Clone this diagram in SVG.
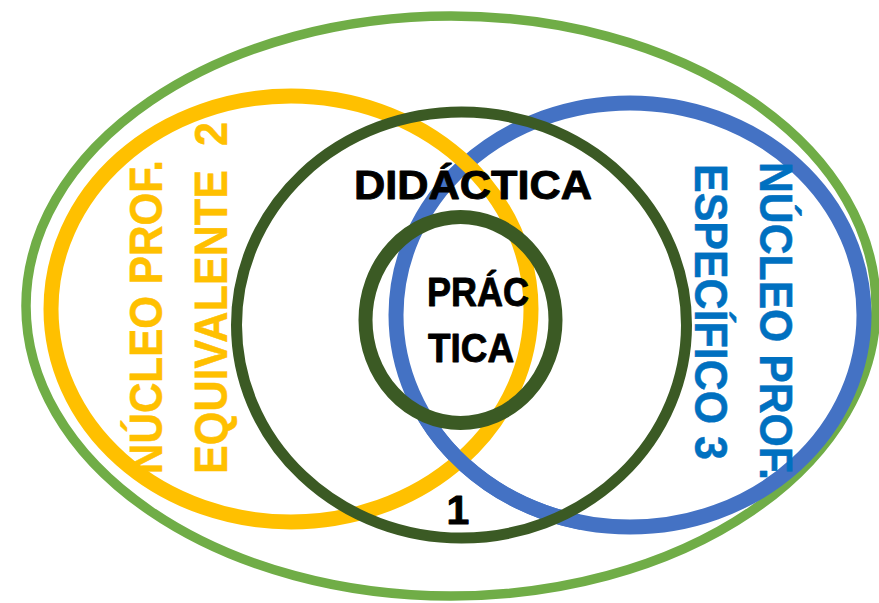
<svg xmlns="http://www.w3.org/2000/svg" width="879" height="603" viewBox="0 0 879 603">
  <style>
    .ring { fill: none; }
    .t { font-family: "Liberation Sans", Arial, sans-serif; font-weight: bold; stroke-width: 0.9px; stroke-linejoin: round; }
    .blk { fill: #000000; stroke: #000000; font-size: 41px; }
    .yel { fill: #FFC000; font-size: 47px; stroke: #FFC000; stroke-width: 0.5px; }
    .blu { fill: #0070C0; font-size: 47px; stroke: #0070C0; stroke-width: 0.5px; }
  </style>
  <defs>
    <clipPath id="lowerClip"><rect x="380" y="420" width="200" height="120"/></clipPath>
  </defs>
  <rect width="879" height="603" fill="#ffffff"/>
  <g id="outer">
    <ellipse class="ring" cx="451" cy="306" rx="425" ry="290" stroke="#70AD47" stroke-width="9.5"/>
  </g>
  <g id="nucleo3">
    <ellipse class="ring" cx="630" cy="315" rx="234" ry="212" stroke="#4472C4" stroke-width="15"/>
  </g>
  <g id="nucleo2">
    <ellipse class="ring" cx="291" cy="309" rx="240" ry="213" stroke="#FFC000" stroke-width="15"/>
  </g>
  <g id="nucleo3-over">
    <ellipse class="ring" cx="630" cy="315" rx="234" ry="212" stroke="#4472C4" stroke-width="15" clip-path="url(#lowerClip)"/>
  </g>
  <g id="didactica">
    <ellipse class="ring" cx="461.5" cy="325" rx="225" ry="213" stroke="#3B5A24" stroke-width="11"/>
    <text class="t blk" x="354" y="199" textLength="238" lengthAdjust="spacingAndGlyphs">DIDÁCTICA</text>
    <text class="t blk" x="458" y="524" text-anchor="middle">1</text>
  </g>
  <g id="practica">
    <ellipse class="ring" cx="460.5" cy="320" rx="95" ry="103" stroke="#3B5A24" stroke-width="14"/>
    <text class="t blk" x="427" y="306" textLength="102" lengthAdjust="spacingAndGlyphs">PRÁC</text>
    <text class="t blk" x="428" y="362" textLength="86" lengthAdjust="spacingAndGlyphs">TICA</text>
  </g>
  <g id="label2">
    <text class="t yel" transform="translate(162,474) rotate(-90)" textLength="314" lengthAdjust="spacingAndGlyphs">NÚCLEO PROF.</text>
    <text class="t yel" transform="translate(227,474) rotate(-90)" textLength="352" lengthAdjust="spacingAndGlyphs" xml:space="preserve">EQUIVALENTE  2</text>
  </g>
  <g id="label3">
    <text class="t blu" transform="translate(760,162) rotate(90)" textLength="318" lengthAdjust="spacingAndGlyphs">NÚCLEO PROF.</text>
    <text class="t blu" transform="translate(695,164) rotate(90)" textLength="296" lengthAdjust="spacingAndGlyphs">ESPECÍFICO 3</text>
  </g>
  <g id="connectors"></g>
</svg>
